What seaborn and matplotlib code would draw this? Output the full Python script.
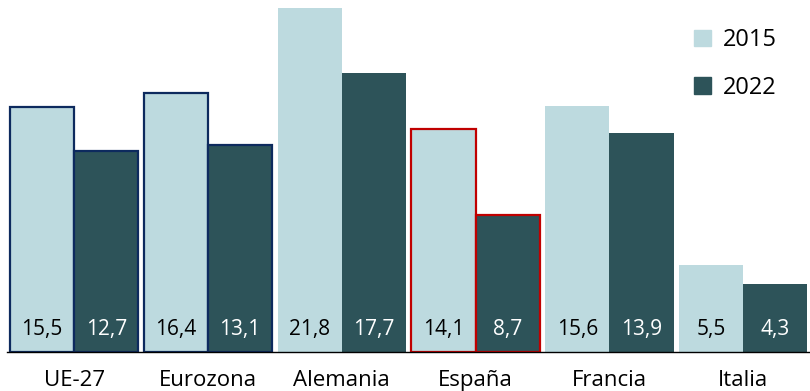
import pandas as pd
import seaborn as sns
import matplotlib.pyplot as plt
from matplotlib.patches import Patch

regions = ['UE-27', 'Eurozona', 'Alemania', 'España', 'Francia', 'Italia']
vals_2015 = [15.5, 16.4, 21.8, 14.1, 15.6, 5.5]
vals_2022 = [12.7, 13.1, 17.7, 8.7, 13.9, 4.3]
years = ['2015', '2022']
colors = {'2015': '#bddadf', '2022': '#2d5359'}
edges = {'UE-27': '#0d2a5e', 'Eurozona': '#0d2a5e', 'España': '#c00000'}

df = pd.DataFrame({
    'region': regions * 2,
    'year': ['2015'] * 6 + ['2022'] * 6,
    'value': vals_2015 + vals_2022,
})

sns.set_theme(style='white')
plt.rcParams['font.family'] = ['Open Sans', 'DejaVu Sans']
plt.rcParams['text.color'] = 'black'
plt.rcParams['xtick.color'] = 'black'

fig = plt.figure(figsize=(8.1, 3.91), dpi=100)
ax = fig.add_axes([0.009, 0.1, 0.991, 0.9])

sns.barplot(df, x='region', y='value', hue='year', order=regions,
            hue_order=years, palette=colors, width=0.96, saturation=1,
            legend=False, ax=ax)

for year, bars in zip(years, ax.containers):
    for reg, p in zip(regions, bars):
        if reg in edges:
            p.set_edgecolor(edges[reg])
            p.set_linewidth(1.6)
        else:
            p.set_linewidth(0)
        v = p.get_height()
        ax.text(p.get_x() + p.get_width() / 2, 1.4,
                f'{v:.1f}'.replace('.', ','), ha='center', va='center',
                fontsize=15, color='black' if year == '2015' else 'white')

ax.set_ylim(0, 22.3)
ax.set_xlim(-0.5, 5.5)
ax.set_xlabel('')
ax.set_ylabel('')
ax.set_yticks([])
ax.tick_params(axis='x', length=0, labelsize=16, pad=13)
sns.despine(ax=ax, left=True)
ax.spines['bottom'].set_color('black')
ax.spines['bottom'].set_linewidth(1)

handles = [Patch(color=colors[y], label=y) for y in years]
ax.legend(handles=handles, loc='upper right', bbox_to_anchor=(0.985, 0.98),
          frameon=False, fontsize=17, handlelength=0.7, handleheight=0.7,
          labelspacing=1.0, handletextpad=0.5)

fig.savefig('out.png', dpi=100)
